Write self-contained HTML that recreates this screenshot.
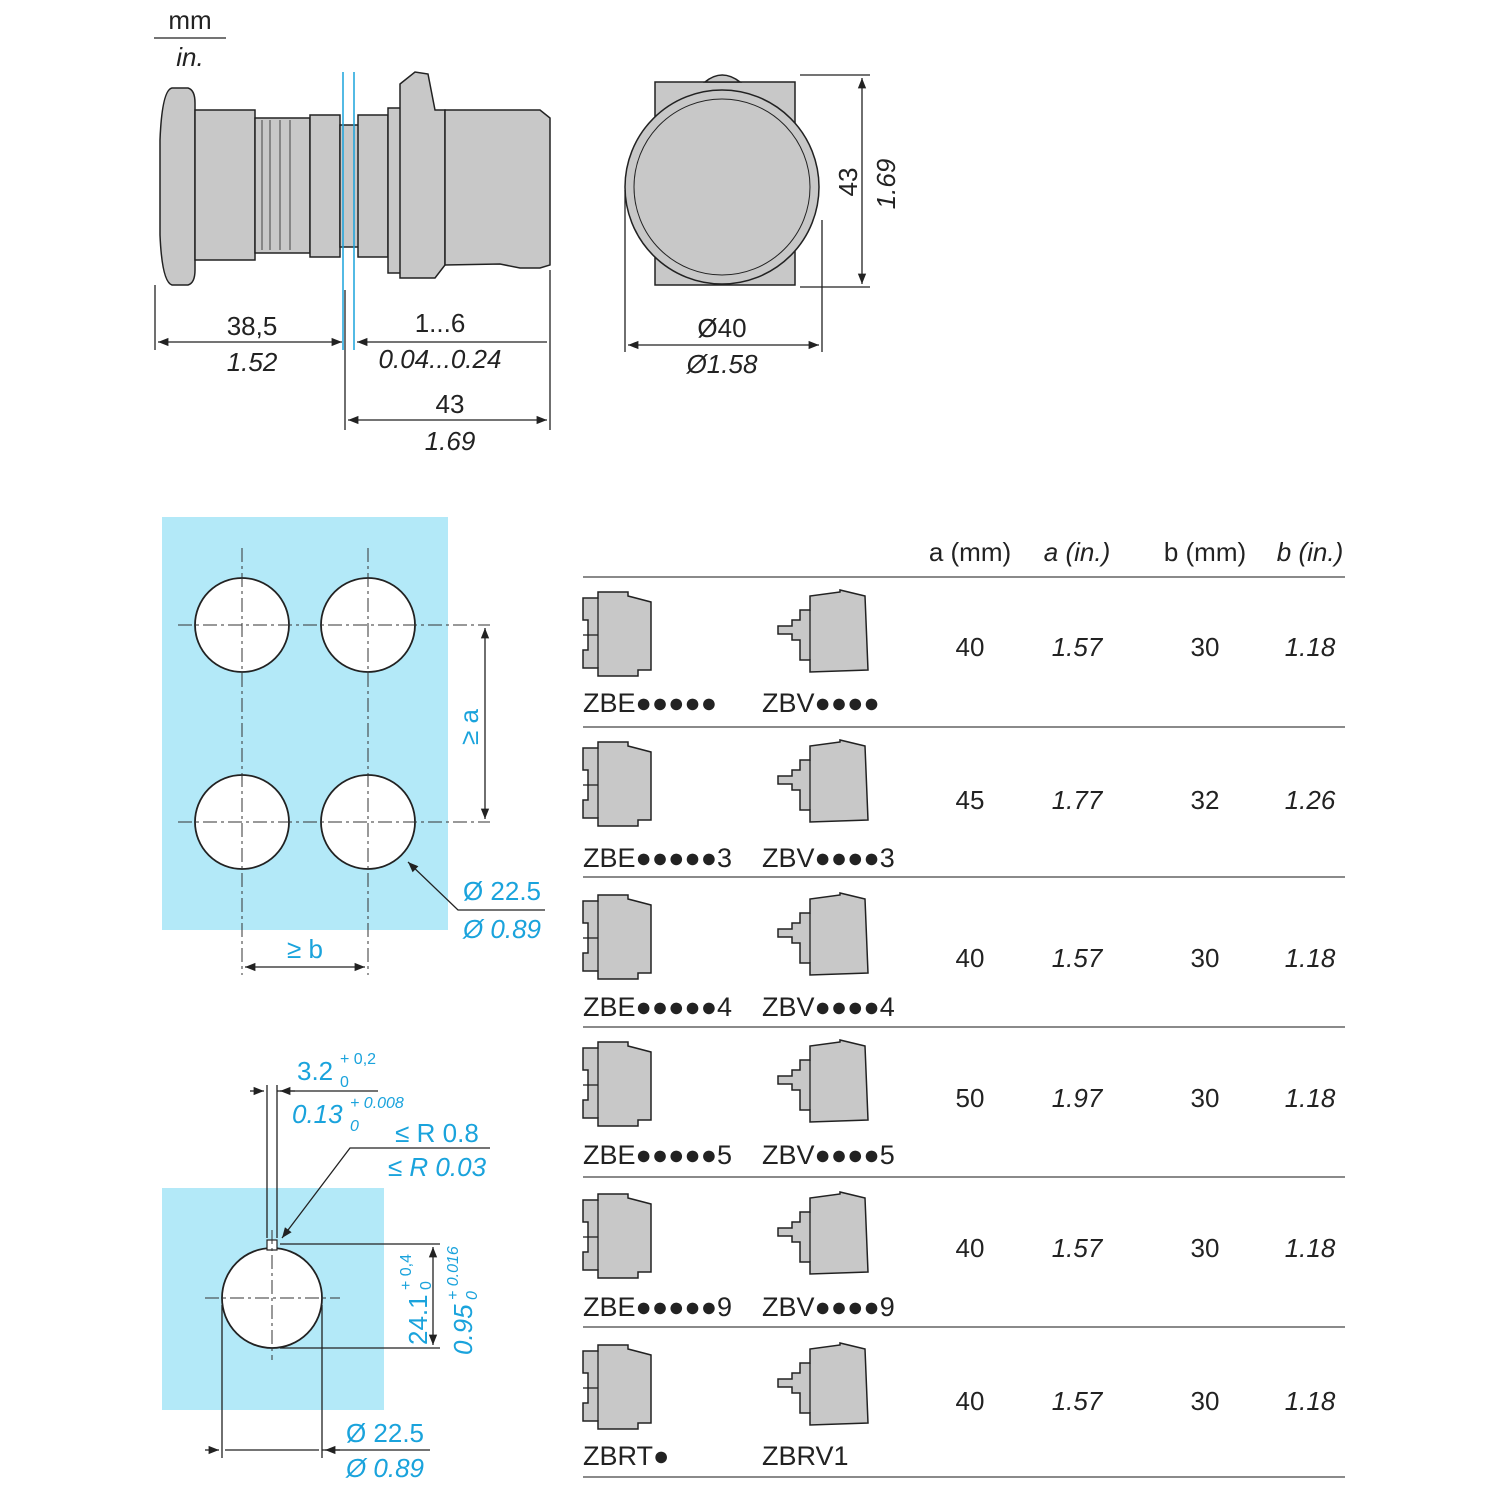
<!DOCTYPE html>
<html><head><meta charset="utf-8"><style>
html,body{margin:0;padding:0;background:#fff;}
svg{display:block;font-family:"Liberation Sans",sans-serif;}
.t{font-size:26px;fill:#222;}
.l{font-size:27px;fill:#222;}
.i{font-size:26px;fill:#222;font-style:italic;}
.b{font-size:26px;fill:#1aa3dc;}
.bi{font-size:26px;fill:#1aa3dc;font-style:italic;}
.ln{stroke:#222;stroke-width:1.3;fill:none;}
.dash{stroke:#333;stroke-width:1;stroke-dasharray:14 4 3 4;fill:none;}
.g{fill:#c8c8c8;stroke:#222;stroke-width:1.5;}
</style></head><body>
<svg width="1500" height="1500" viewBox="0 0 1500 1500">
<defs>
<marker id="a" viewBox="0 0 10 10" refX="10" refY="5" markerWidth="10" markerHeight="8" orient="auto-start-reverse"><path d="M0,1 L10,5 L0,9 z" fill="#222"/></marker>
<g id="zbe">
<path class="g" d="M0,8 L15,8 L15,2 L45,2 L45,6 L68,12 L68,80 L55,80 L55,86 L15,86 L15,78 L0,78 L0,60 L5,60 L5,30 L0,30 Z"/>
<line class="ln" x1="15" y1="8" x2="15" y2="78"/><line class="ln" x1="0" y1="45" x2="15" y2="45"/>
</g>
<g id="zbv">
<path class="g" d="M30,20 L40,20 L40,6 L70,2 L70,0 L95,6 L98,80 L40,82 L40,70 L30,70 L30,50 L22,50 L22,44 L8,44 L8,36 L22,36 L22,30 L30,30 Z"/>
<line class="ln" x1="40" y1="20" x2="40" y2="70"/>
</g>
</defs>

<text class="t" x="190" y="29" text-anchor="middle">mm</text>
<line class="ln" x1="154" y1="38" x2="226" y2="38"/>
<text class="i" x="190" y="66" text-anchor="middle">in.</text>

<path class="g" d="M172,88 Q162,90 160,140 L160,235 Q162,282 172,285 L188,285 Q195,283 195,270 L195,103 Q195,90 188,88 Z"/>
<rect class="g" x="195" y="110" width="60" height="150"/>
<rect class="g" x="255" y="118" width="55" height="135"/>
<g stroke="#222" stroke-width="0.8">
<line x1="262" y1="120" x2="262" y2="250"/><line x1="270" y1="120" x2="270" y2="250"/><line x1="280" y1="120" x2="280" y2="250"/><line x1="290" y1="120" x2="290" y2="250"/>
</g>
<rect class="g" x="310" y="115" width="30" height="142"/>
<rect class="g" x="340" y="125" width="20" height="122"/>
<rect class="g" x="358" y="115" width="30" height="142"/>
<rect class="g" x="388" y="108" width="20" height="165"/>
<path class="g" d="M400,84 L415,72 L428,74 L435,110 L445,110 L445,265 L435,278 L400,278 Z"/>
<path class="g" d="M445,110 L540,110 L550,118 L550,265 L540,268 L520,268 L500,264 L445,265 Z"/>
<line x1="343" y1="72" x2="343" y2="350" stroke="#1aa3dc" stroke-width="1.5"/>
<line x1="354" y1="72" x2="354" y2="350" stroke="#1aa3dc" stroke-width="1.5"/>
<line class="ln" x1="155" y1="285" x2="155" y2="350"/>
<line class="ln" x1="345" y1="290" x2="345" y2="430"/>
<line class="ln" x1="550" y1="270" x2="550" y2="430"/>
<line class="ln" x1="158" y1="342" x2="342" y2="342" marker-start="url(#a)" marker-end="url(#a)"/>
<line class="ln" x1="357" y1="342" x2="547" y2="342" marker-start="url(#a)"/>
<text class="t" x="252" y="335" text-anchor="middle">38,5</text>
<text class="i" x="252" y="371" text-anchor="middle">1.52</text>
<text class="t" x="440" y="332" text-anchor="middle">1...6</text>
<text class="i" x="440" y="368" text-anchor="middle">0.04...0.24</text>
<line class="ln" x1="348" y1="420" x2="547" y2="420" marker-start="url(#a)" marker-end="url(#a)"/>
<text class="t" x="450" y="413" text-anchor="middle">43</text>
<text class="i" x="450" y="450" text-anchor="middle">1.69</text>

<rect class="g" x="655" y="82" width="140" height="203"/>
<path class="g" d="M705,82 Q722,68 740,82 Z"/>
<circle cx="722" cy="187" r="97" fill="#c8c8c8" stroke="#222" stroke-width="1.5"/>
<circle cx="722" cy="187" r="88" fill="#c8c8c8" stroke="#222" stroke-width="1"/>
<line class="ln" x1="800" y1="75" x2="870" y2="75"/>
<line class="ln" x1="800" y1="287" x2="870" y2="287"/>
<line class="ln" x1="862" y1="78" x2="862" y2="284" marker-start="url(#a)" marker-end="url(#a)"/>
<text class="t" transform="translate(857,182) rotate(-90)" text-anchor="middle">43</text>
<text class="i" transform="translate(895,184) rotate(-90)" text-anchor="middle">1.69</text>
<line class="ln" x1="625" y1="190" x2="625" y2="352"/>
<line class="ln" x1="822" y1="220" x2="822" y2="352"/>
<line class="ln" x1="628" y1="345" x2="819" y2="345" marker-start="url(#a)" marker-end="url(#a)"/>
<text class="t" x="722" y="337" text-anchor="middle">Ø40</text>
<text class="i" x="722" y="373" text-anchor="middle">Ø1.58</text>

<rect x="162" y="517" width="286" height="413" fill="#b3e9f8"/>
<circle cx="242" cy="625" r="47" fill="#fff" stroke="#222" stroke-width="1.8"/>
<circle cx="368" cy="625" r="47" fill="#fff" stroke="#222" stroke-width="1.8"/>
<circle cx="242" cy="822" r="47" fill="#fff" stroke="#222" stroke-width="1.8"/>
<circle cx="368" cy="822" r="47" fill="#fff" stroke="#222" stroke-width="1.8"/>
<line class="dash" x1="178" y1="625" x2="490" y2="625"/>
<line class="dash" x1="178" y1="822" x2="490" y2="822"/>
<line class="dash" x1="242" y1="548" x2="242" y2="975"/>
<line class="dash" x1="368" y1="548" x2="368" y2="975"/>
<line class="ln" x1="485" y1="628" x2="485" y2="819" marker-start="url(#a)" marker-end="url(#a)"/>
<text class="b" transform="translate(478,727) rotate(-90)" text-anchor="middle">≥ a</text>
<line class="ln" x1="245" y1="967" x2="365" y2="967" marker-start="url(#a)" marker-end="url(#a)"/>
<text class="b" x="305" y="958" text-anchor="middle">≥ b</text>
<polyline class="ln" points="545,910 458,910 408,862" marker-end="url(#a)"/>
<text class="b" x="502" y="900" text-anchor="middle">Ø 22.5</text>
<text class="bi" x="502" y="938" text-anchor="middle">Ø 0.89</text>

<rect x="162" y="1188" width="222" height="222" fill="#b3e9f8"/>
<circle cx="272" cy="1298" r="50" fill="#fff" stroke="#222" stroke-width="1.8"/>
<rect x="267" y="1240" width="10" height="10" fill="#fff" stroke="#222" stroke-width="1.2"/>
<line class="dash" x1="205" y1="1298" x2="340" y2="1298"/>
<line class="dash" x1="272" y1="1230" x2="272" y2="1360"/>
<line class="ln" x1="267" y1="1085" x2="267" y2="1238"/>
<line class="ln" x1="277" y1="1085" x2="277" y2="1238"/>
<line class="ln" x1="250" y1="1091" x2="264" y2="1091" marker-end="url(#a)"/>
<line class="ln" x1="295" y1="1091" x2="280" y2="1091" marker-end="url(#a)"/>
<line class="ln" x1="277" y1="1091" x2="378" y2="1091"/>
<text class="b" x="297" y="1080">3.2</text><text class="b" x="340" y="1064" style="font-size:16px">+ 0,2</text><text class="b" x="340" y="1087" style="font-size:16px">0</text>
<text class="bi" x="292" y="1123">0.13</text><text class="bi" x="350" y="1108" style="font-size:16px">+ 0.008</text><text class="bi" x="350" y="1131" style="font-size:16px">0</text>
<polyline class="ln" points="490,1148 350,1148 282,1238" marker-end="url(#a)"/>
<text class="b" x="437" y="1142" text-anchor="middle">≤ R 0.8</text>
<text class="bi" x="437" y="1176" text-anchor="middle">≤ R 0.03</text>
<line class="ln" x1="280" y1="1244" x2="440" y2="1244"/>
<line class="ln" x1="280" y1="1348" x2="440" y2="1348"/>
<line class="ln" x1="433" y1="1247" x2="433" y2="1345" marker-start="url(#a)" marker-end="url(#a)"/>
<text class="b" transform="translate(427,1345) rotate(-90)">24.1</text>
<text class="b" transform="translate(411,1290) rotate(-90)" style="font-size:16px">+ 0,4</text>
<text class="b" transform="translate(431,1290) rotate(-90)" style="font-size:16px">0</text>
<text class="bi" transform="translate(472,1355) rotate(-90)">0.95</text>
<text class="bi" transform="translate(458,1300) rotate(-90)" style="font-size:16px">+ 0.016</text>
<text class="bi" transform="translate(477,1300) rotate(-90)" style="font-size:16px">0</text>
<line class="ln" x1="222" y1="1305" x2="222" y2="1458"/>
<line class="ln" x1="322" y1="1305" x2="322" y2="1458"/>
<line class="ln" x1="205" y1="1450" x2="219" y2="1450" marker-end="url(#a)"/>
<line class="ln" x1="225" y1="1450" x2="319" y2="1450"/>
<line class="ln" x1="340" y1="1450" x2="325" y2="1450" marker-end="url(#a)"/>
<line class="ln" x1="322" y1="1450" x2="430" y2="1450"/>
<text class="b" x="385" y="1442" text-anchor="middle">Ø 22.5</text>
<text class="bi" x="385" y="1477" text-anchor="middle">Ø 0.89</text>

<text class="t" x="970" y="561" text-anchor="middle">a (mm)</text>
<text class="i" x="1077" y="561" text-anchor="middle">a (in.)</text>
<text class="t" x="1205" y="561" text-anchor="middle">b (mm)</text>
<text class="i" x="1310" y="561" text-anchor="middle">b (in.)</text>
<g stroke="#444" stroke-width="1.2">
<line x1="583" y1="577" x2="1345" y2="577"/><line x1="583" y1="727" x2="1345" y2="727"/>
<line x1="583" y1="877" x2="1345" y2="877"/><line x1="583" y1="1027" x2="1345" y2="1027"/>
<line x1="583" y1="1177" x2="1345" y2="1177"/><line x1="583" y1="1327" x2="1345" y2="1327"/>
<line x1="583" y1="1477" x2="1345" y2="1477"/>
</g>
<use href="#zbe" x="583" y="590"/><use href="#zbv" x="770" y="590"/>
<use href="#zbe" x="583" y="740"/><use href="#zbv" x="770" y="740"/>
<use href="#zbe" x="583" y="893"/><use href="#zbv" x="770" y="893"/>
<use href="#zbe" x="583" y="1040"/><use href="#zbv" x="770" y="1040"/>
<use href="#zbe" x="583" y="1192"/><use href="#zbv" x="770" y="1192"/>
<use href="#zbe" x="583" y="1343"/><use href="#zbv" x="770" y="1343"/>
<text class="l" x="583" y="712">ZBE●●●●●</text><text class="l" x="762" y="712">ZBV●●●●</text>
<text class="l" x="583" y="867">ZBE●●●●●3</text><text class="l" x="762" y="867">ZBV●●●●3</text>
<text class="l" x="583" y="1016">ZBE●●●●●4</text><text class="l" x="762" y="1016">ZBV●●●●4</text>
<text class="l" x="583" y="1164">ZBE●●●●●5</text><text class="l" x="762" y="1164">ZBV●●●●5</text>
<text class="l" x="583" y="1316">ZBE●●●●●9</text><text class="l" x="762" y="1316">ZBV●●●●9</text>
<text class="l" x="583" y="1465">ZBRT●</text><text class="l" x="762" y="1465">ZBRV1</text>
<text class="t" x="970" y="656" text-anchor="middle">40</text><text class="i" x="1077" y="656" text-anchor="middle">1.57</text><text class="t" x="1205" y="656" text-anchor="middle">30</text><text class="i" x="1310" y="656" text-anchor="middle">1.18</text>
<text class="t" x="970" y="809" text-anchor="middle">45</text><text class="i" x="1077" y="809" text-anchor="middle">1.77</text><text class="t" x="1205" y="809" text-anchor="middle">32</text><text class="i" x="1310" y="809" text-anchor="middle">1.26</text>
<text class="t" x="970" y="967" text-anchor="middle">40</text><text class="i" x="1077" y="967" text-anchor="middle">1.57</text><text class="t" x="1205" y="967" text-anchor="middle">30</text><text class="i" x="1310" y="967" text-anchor="middle">1.18</text>
<text class="t" x="970" y="1107" text-anchor="middle">50</text><text class="i" x="1077" y="1107" text-anchor="middle">1.97</text><text class="t" x="1205" y="1107" text-anchor="middle">30</text><text class="i" x="1310" y="1107" text-anchor="middle">1.18</text>
<text class="t" x="970" y="1257" text-anchor="middle">40</text><text class="i" x="1077" y="1257" text-anchor="middle">1.57</text><text class="t" x="1205" y="1257" text-anchor="middle">30</text><text class="i" x="1310" y="1257" text-anchor="middle">1.18</text>
<text class="t" x="970" y="1410" text-anchor="middle">40</text><text class="i" x="1077" y="1410" text-anchor="middle">1.57</text><text class="t" x="1205" y="1410" text-anchor="middle">30</text><text class="i" x="1310" y="1410" text-anchor="middle">1.18</text>
</svg>
</body></html>
